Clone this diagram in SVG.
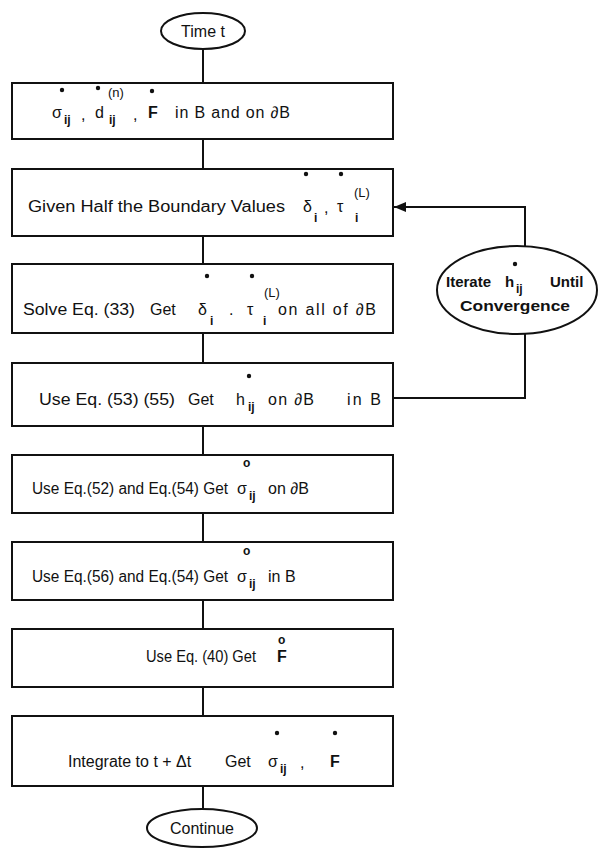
<svg xmlns="http://www.w3.org/2000/svg" width="600" height="857" viewBox="0 0 600 857">
<style>
.box{fill:#fff;stroke:#111;stroke-width:2}
.ell{fill:#fff;stroke:#111;stroke-width:2}
.ln{stroke:#111;stroke-width:2;fill:none}
text{font-family:"Liberation Sans",Arial,sans-serif;font-size:16px;fill:#111}
.sub{font-size:12px;font-weight:bold}
.sup{font-size:13px}
.b{font-weight:bold}
.ring{font-size:12px;font-weight:bold}
.dot{fill:#111}
.et{font-weight:bold;font-size:15px}
</style>
<defs>
<marker id="arr" markerUnits="userSpaceOnUse" markerWidth="13" markerHeight="10" refX="12" refY="5" orient="auto">
<path d="M0,0 L12,5 L0,10 z" fill="#111"/>
</marker>
</defs>
<rect width="600" height="857" fill="#fff"/>
<g id="connectors">
<line class="ln" x1="203" y1="49" x2="203" y2="83"/>
<line class="ln" x1="203" y1="139" x2="203" y2="169"/>
<line class="ln" x1="203" y1="236" x2="203" y2="264"/>
<line class="ln" x1="203" y1="333" x2="203" y2="363"/>
<line class="ln" x1="203" y1="426" x2="203" y2="455"/>
<line class="ln" x1="203" y1="513" x2="203" y2="542"/>
<line class="ln" x1="203" y1="600" x2="203" y2="629"/>
<line class="ln" x1="203" y1="687" x2="203" y2="716"/>
<line class="ln" x1="203" y1="786" x2="203" y2="809"/>
<path class="ln" d="M525,246 V207 H394" marker-end="url(#arr)"/>
<path class="ln" d="M525,334 V398 H393"/>
</g>
<g id="start">
<ellipse class="ell" cx="203" cy="31" rx="42" ry="18"/>
<text x="203" y="37" text-anchor="middle">Time t</text>
</g>
<g id="box1">
<rect class="box" x="12" y="83" width="381" height="56"/>
<circle class="dot" cx="62" cy="90" r="2.2"/>
<circle class="dot" cx="98" cy="88" r="2.2"/>
<circle class="dot" cx="152" cy="91" r="2.2"/>
<text x="52" y="118">σ</text>
<text class="sub" x="64" y="124">ij</text>
<text x="81" y="120">,</text>
<text x="95" y="118">d</text>
<text class="sub" x="109" y="124">ij</text>
<text class="sup" x="108" y="97">(n)</text>
<text x="133" y="120">,</text>
<text class="b" x="148" y="118">F</text>
<text x="175" y="118" textLength="115" lengthAdjust="spacing">in B and on ∂B</text>
</g>
<g id="box2">
<rect class="box" x="12" y="169" width="381" height="67"/>
<text x="28" y="212" textLength="257" lengthAdjust="spacingAndGlyphs">Given Half the Boundary Values</text>
<circle class="dot" cx="306" cy="174" r="2.2"/>
<circle class="dot" cx="341" cy="174" r="2.2"/>
<text x="303" y="212">δ</text>
<text class="sub" x="314" y="222">i</text>
<text x="324" y="213">,</text>
<text x="337" y="212">τ</text>
<text class="sub" x="355" y="222">i</text>
<text class="sup" x="354" y="197">(L)</text>
</g>
<g id="box3">
<rect class="box" x="12" y="264" width="381" height="69"/>
<text x="23" y="315" textLength="112" lengthAdjust="spacingAndGlyphs">Solve Eq. (33)</text>
<text x="150" y="315">Get</text>
<circle class="dot" cx="207" cy="276" r="2.2"/>
<circle class="dot" cx="252" cy="276" r="2.2"/>
<text x="198" y="315">δ</text>
<text class="sub" x="210" y="325">i</text>
<text x="229" y="315">.</text>
<text x="247" y="315">τ</text>
<text class="sub" x="263" y="325">i</text>
<text class="sup" x="264" y="297">(L)</text>
<text x="278" y="315" textLength="98" lengthAdjust="spacing">on all of ∂B</text>
</g>
<g id="box4">
<rect class="box" x="12" y="363" width="381" height="63"/>
<text x="39" y="405" textLength="136" lengthAdjust="spacingAndGlyphs">Use Eq. (53) (55)</text>
<text x="188" y="405">Get</text>
<circle class="dot" cx="249" cy="376" r="2.2"/>
<text x="236" y="405">h</text>
<text class="sub" x="248" y="411">ij</text>
<text x="268" y="405" textLength="46" lengthAdjust="spacing">on ∂B</text>
<text x="347" y="405" textLength="34" lengthAdjust="spacing">in B</text>
</g>
<g id="box5">
<rect class="box" x="12" y="455" width="381" height="58"/>
<text x="32" y="494" textLength="196" lengthAdjust="spacingAndGlyphs">Use Eq.(52) and Eq.(54) Get</text>
<text class="ring" x="243" y="467">o</text>
<text x="237" y="494">σ</text>
<text class="sub" x="249" y="500">ij</text>
<text x="268" y="494">on ∂B</text>
</g>
<g id="box6">
<rect class="box" x="12" y="542" width="381" height="58"/>
<text x="32" y="582" textLength="196" lengthAdjust="spacingAndGlyphs">Use Eq.(56) and Eq.(54) Get</text>
<text class="ring" x="243" y="555">o</text>
<text x="237" y="582">σ</text>
<text class="sub" x="249" y="588">ij</text>
<text x="268" y="582">in B</text>
</g>
<g id="box7">
<rect class="box" x="12" y="629" width="381" height="58"/>
<text x="146" y="662" textLength="110" lengthAdjust="spacingAndGlyphs">Use Eq. (40) Get</text>
<text class="ring" x="278" y="644">o</text>
<text class="b" x="277" y="662">F</text>
</g>
<g id="box8">
<rect class="box" x="12" y="716" width="381" height="70"/>
<text x="68" y="767">Integrate to t + Δt</text>
<text x="225" y="767">Get</text>
<circle class="dot" cx="277" cy="733" r="2.2"/>
<circle class="dot" cx="335" cy="733" r="2.2"/>
<text x="268" y="767">σ</text>
<text class="sub" x="280" y="773">ij</text>
<text x="300" y="768">,</text>
<text class="b" x="330" y="767">F</text>
</g>
<g id="end">
<ellipse class="ell" cx="202" cy="828" rx="55" ry="19"/>
<text x="202" y="834" text-anchor="middle">Continue</text>
</g>
<g id="iterate">
<ellipse class="ell" cx="517" cy="290" rx="80" ry="44"/>
<circle class="dot" cx="515" cy="264" r="2.2"/>
<text class="et" x="446" y="287">Iterate</text>
<text class="et" x="505" y="287">h</text>
<text class="sub" x="516" y="293">ij</text>
<text class="et" x="550" y="287">Until</text>
<text class="et" x="460" y="311" textLength="110" lengthAdjust="spacingAndGlyphs">Convergence</text>
</g>
</svg>
